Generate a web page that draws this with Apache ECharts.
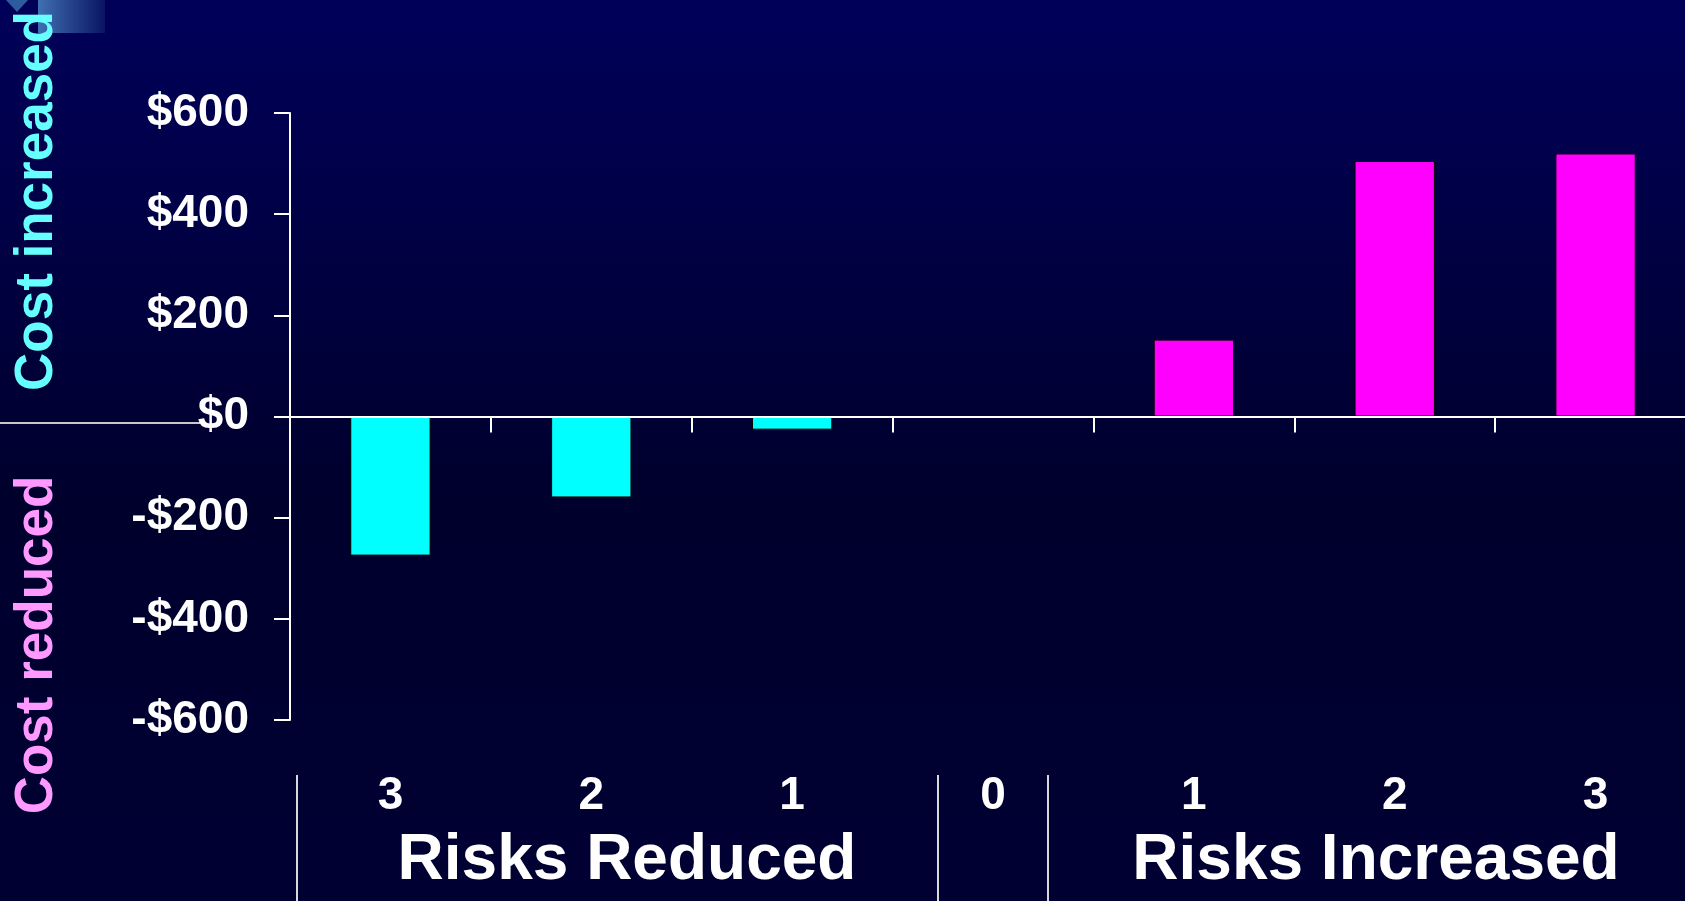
<!DOCTYPE html>
<html>
<head>
<meta charset="utf-8">
<script src="https://cdn.jsdelivr.net/npm/echarts@6/dist/echarts.min.js"></script>
<style>
  html, body { margin: 0; padding: 0; background: #000040; }
  #chart { width: 1685px; height: 901px; }
</style>
</head>
<body>
<div id="chart"></div>
<script>
// ---- data ----
const categories = ['R3', 'R2', 'R1', 'N0', 'I1', 'I2', 'I3'];
const tickLabels = ['3', '2', '1', '0', '1', '2', '3'];
const costChange = [-275, -160, -26, 0, 152, 505, 520];
const groupLabels = ['Risks Reduced', 'Risks Increased'];
const sideLabels = ['Cost increased', 'Cost reduced'];
const yMin = -600, yMax = 600, yStep = 200;

const FONT = '"Liberation Sans", Arial, sans-serif';

const chart = echarts.init(document.getElementById('chart'));

function money(v) {
  return (v < 0 ? '-$' : '$') + Math.abs(v);
}

const option = {
  animation: false,
  backgroundColor: {
    type: 'linear', x: 0, y: 0, x2: 0, y2: 1,
    colorStops: [
      { offset: 0, color: '#00005A' },
      { offset: 0.55, color: '#00002D' },
      { offset: 1, color: '#000033' }
    ]
  },
  grid: {
    left: 290, right: -11, top: 113, bottom: 181,
    containLabel: false,
    outerBoundsMode: 'none'
  },
  xAxis: [{
    type: 'category',
    data: categories,
    z: 5,
    axisLine: { onZero: true, lineStyle: { color: '#ffffff', width: 2 } },
    axisTick: { show: true, length: 16, lineStyle: { color: '#ffffff', width: 2 } },
    axisLabel: { show: false },
    splitLine: { show: false }
  }, {
    type: 'category',
    data: categories,
    position: 'bottom',
    offset: 0,
    axisLine: { show: false, onZero: false },
    axisTick: { show: false },
    axisLabel: {
      interval: 0,
      formatter: (v, i) => tickLabels[i],
      margin: 53,
      color: '#ffffff',
      fontSize: 46,
      lineHeight: 46,
      fontWeight: 'bold',
      fontFamily: FONT
    },
    splitLine: { show: false }
  }],
  yAxis: {
    type: 'value',
    min: yMin, max: yMax, interval: yStep,
    z: 5,
    axisLine: { show: true, lineStyle: { color: '#ffffff', width: 2 } },
    axisTick: { show: true, length: 16, lineStyle: { color: '#ffffff', width: 2 } },
    axisLabel: {
      formatter: money,
      margin: 41,
      color: '#ffffff',
      fontSize: 46,
      fontWeight: 'bold',
      fontFamily: FONT,
      padding: [6, 0, 0, 0]
    },
    splitLine: { show: false }
  },
  series: [{
    type: 'bar',
    xAxisIndex: 0,
    data: costChange,
    barWidth: '40%',
    itemStyle: {
      color: p => (p.value < 0 ? '#00FFFF' : '#FF00FF'),
      borderColor: '#000000',
      borderWidth: 1
    }
  }],
  graphic: [
    {
      type: 'rect', z: 0,
      shape: { x: 38, y: 0, width: 67, height: 33 },
      style: {
        fill: {
          type: 'linear', x: 0, y: 0, x2: 1, y2: 0,
          colorStops: [
            { offset: 0, color: '#3F70B2' },
            { offset: 1, color: '#0A1462' }
          ]
        }
      }
    },
    {
      type: 'polygon', z: 0,
      shape: { points: [[6, 0], [28, 0], [17, 12]] },
      style: { fill: '#2E5A9E' }
    },
    {
      type: 'line', z: 1,
      shape: { x1: 0, y1: 423, x2: 200, y2: 423 },
      style: { stroke: '#C8C8C8', lineWidth: 2 }
    },
    {
      type: 'line', shape: { x1: 297, y1: 775, x2: 297, y2: 901 },
      style: { stroke: '#D8D8D8', lineWidth: 2 }
    },
    {
      type: 'line', shape: { x1: 938, y1: 775, x2: 938, y2: 901 },
      style: { stroke: '#D8D8D8', lineWidth: 2 }
    },
    {
      type: 'line', shape: { x1: 1048, y1: 775, x2: 1048, y2: 901 },
      style: { stroke: '#D8D8D8', lineWidth: 2 }
    },
    {
      type: 'text', x: 627, y: 861,
      style: {
        text: groupLabels[0], fill: '#ffffff',
        fontSize: 64, fontWeight: 'bold', fontFamily: FONT,
        align: 'center', verticalAlign: 'middle'
      }
    },
    {
      type: 'text', x: 1376, y: 861,
      style: {
        text: groupLabels[1], fill: '#ffffff',
        fontSize: 64, fontWeight: 'bold', fontFamily: FONT,
        align: 'center', verticalAlign: 'middle'
      }
    },
    {
      type: 'text', x: 37, y: 201, rotation: Math.PI / 2, z: 2,
      style: {
        text: sideLabels[0], fill: '#66FFFF',
        fontSize: 53, fontWeight: 'bold', fontFamily: FONT,
        align: 'center', verticalAlign: 'middle'
      }
    },
    {
      type: 'text', x: 37, y: 645, rotation: Math.PI / 2, z: 2,
      style: {
        text: sideLabels[1], fill: '#FF99FF',
        fontSize: 53, fontWeight: 'bold', fontFamily: FONT,
        align: 'center', verticalAlign: 'middle'
      }
    }
  ]
};

chart.setOption(option);
</script>
</body>
</html>
